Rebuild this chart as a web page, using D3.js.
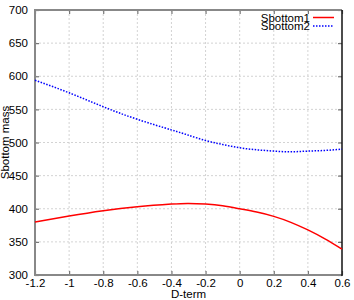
<!DOCTYPE html>
<html>
<head>
<meta charset="utf-8">
<script src="https://cdn.jsdelivr.net/npm/d3@7"></script>
<style>
body { margin: 0; background: #fff; }
text { font-family: "Liberation Sans Narrow", "Liberation Sans", Arial, sans-serif; fill: #000; }
</style>
</head>
<body>
<div id="chart"></div>
<script>
// D-term values and the two sbottom masses
var dterm = [-1.2, -1.0, -0.8, -0.6, -0.4, -0.3, -0.2, -0.1, 0, 0.1, 0.2, 0.3, 0.4, 0.5, 0.6];
var sbottom1 = [380, 389, 397, 403, 407, 408, 407, 404.5, 400, 395, 388.5, 379.5, 368, 354.5, 339];
var sbottom2 = [594, 575, 554, 535, 519, 511, 503, 497, 492, 489, 487, 486, 487, 488, 490];
var xTicks = [-1.2, -1, -0.8, -0.6, -0.4, -0.2, 0, 0.2, 0.4, 0.6];
var yTicks = [300, 350, 400, 450, 500, 550, 600, 650, 700];
var seriesNames = ["Sbottom1", "Sbottom2"];

var W = 354, H = 300;
var margin = {left: 35, right: 12, top: 10, bottom: 25};
var width = W - margin.left - margin.right;
var height = H - margin.top - margin.bottom;

var svg = d3.select("#chart")
  .append("svg")
  .attr("width", W)
  .attr("height", H);
var g = svg.append("g")
  .attr("transform", "translate(" + margin.left + "," + margin.top + ")");

var x = d3.scaleLinear().domain([-1.2, 0.6]).range([0, width]);
var y = d3.scaleLinear().domain([300, 700]).range([height, 0]);

// grid
g.append("g").selectAll("line")
  .data(xTicks.slice(1, -1)).enter().append("line")
  .attr("x1", d => x(d)).attr("x2", d => x(d))
  .attr("y1", 0).attr("y2", height)
  .attr("stroke", "#c8c8c8").attr("stroke-width", 0.8)
  .attr("stroke-dasharray", "2,2");
g.append("g").selectAll("line")
  .data(yTicks.slice(1, -1)).enter().append("line")
  .attr("x1", 0).attr("x2", width)
  .attr("y1", d => y(d)).attr("y2", d => y(d))
  .attr("stroke", "#c8c8c8").attr("stroke-width", 0.8)
  .attr("stroke-dasharray", "2,2");

// axes (ticks inward, mirrored on top/right)
var fmt = d => String(+d.toFixed(1));
var xAxis = g.append("g").attr("transform", "translate(0," + height + ")")
  .call(d3.axisBottom(x).tickValues(xTicks).tickSize(-4).tickPadding(4).tickFormat(fmt));
var yAxis = g.append("g")
  .call(d3.axisLeft(y).tickValues(yTicks).tickSize(-4).tickPadding(7).tickFormat(fmt));
var xTop = g.append("g")
  .call(d3.axisTop(x).tickValues(xTicks).tickSize(-4).tickFormat(""));
var yRight = g.append("g").attr("transform", "translate(" + width + ",0)")
  .call(d3.axisRight(y).tickValues(yTicks).tickSize(-4).tickFormat(""));
[xAxis, yAxis, xTop, yRight].forEach(function(a){
  a.select(".domain").remove();
  a.selectAll(".tick line").attr("stroke", "#777").attr("stroke-width", 1.2);
  a.selectAll("text").style("font-size", "11.5px").attr("fill", "#000");
});

// frame: gray left/top/bottom, black right
g.append("line").attr("x1", 0).attr("x2", 0).attr("y1", -1).attr("y2", height + 1)
  .attr("stroke", "#888").attr("stroke-width", 2);
g.append("line").attr("x1", -1).attr("x2", width).attr("y1", 0).attr("y2", 0)
  .attr("stroke", "#888").attr("stroke-width", 2);
g.append("line").attr("x1", -1).attr("x2", width).attr("y1", height).attr("y2", height)
  .attr("stroke", "#888").attr("stroke-width", 2);
g.append("line").attr("x1", width).attr("x2", width).attr("y1", 0).attr("y2", height + 1)
  .attr("stroke", "#111").attr("stroke-width", 1.5);

// curves
var line = d3.line().curve(d3.curveNatural);
g.append("path")
  .attr("d", line(dterm.map((d, i) => [x(d), y(sbottom1[i])])))
  .attr("fill", "none").attr("stroke", "#f00").attr("stroke-width", 1.5);
g.append("path")
  .attr("d", line(dterm.map((d, i) => [x(d), y(sbottom2[i])])))
  .attr("fill", "none").attr("stroke", "#00f").attr("stroke-width", 1.5)
  .attr("stroke-dasharray", "1.5,1.5");

// legend
var legend = svg.append("g");
seriesNames.forEach(function(name, i){
  var ly = 17.5 + i * 8.5;
  legend.append("text").attr("x", 310).attr("y", ly + 4)
    .attr("text-anchor", "end").style("font-size", "11.5px").text(name);
  legend.append("line").attr("x1", 313).attr("x2", 334).attr("y1", ly).attr("y2", ly)
    .attr("stroke", i == 0 ? "#f00" : "#00f").attr("stroke-width", 1.5)
    .attr("stroke-dasharray", i == 0 ? null : "1.5,1.5");
});

// axis titles
svg.append("text").attr("x", margin.left + width / 2).attr("y", 298)
  .attr("text-anchor", "middle").style("font-size", "11.5px").text("D-term");
svg.append("text")
  .attr("transform", "translate(9," + (margin.top + height / 2) + ") rotate(-90)")
  .attr("text-anchor", "middle").style("font-size", "11.5px").text("Sbottom mass");
</script>
</body>
</html>
